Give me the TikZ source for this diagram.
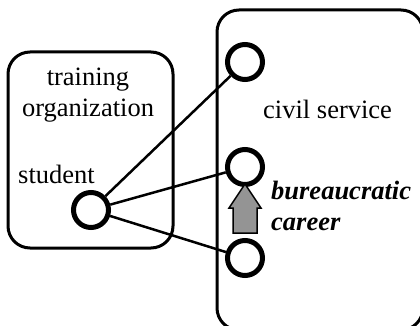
\documentclass[tikz,border=0pt]{standalone}
\usepackage{fontspec}
\setmainfont{Liberation Serif}
\begin{document}
\begin{tikzpicture}[x=1pt,y=-1pt,
  lbl/.style={font=\fontsize{26.5}{30}\selectfont, inner sep=0pt},
  blbl/.style={font=\fontsize{26.5}{30}\selectfont\bfseries\itshape, inner sep=0pt},
  orgbox/.style={draw, line width=3pt, rounded corners=22pt},
  posnode/.style={circle, draw, line width=5pt, minimum size=35pt, inner sep=0pt},
  linkline/.style={line width=2.5pt},
  uparrow/.style={draw, line width=1.5pt, fill=black!42, line join=miter}]
\useasboundingbox (0,0) rectangle (420,326);
\clip (0,0) rectangle (420,326);
% boxes
\draw[orgbox] (8,52) rectangle (173,248);
\draw[orgbox] (217,10) rectangle (423,330);
% texts
\node[lbl, anchor=base] (t1) at (88,86) {training};
\node[lbl, anchor=base] (t2) at (88,117) {organization};
\node[lbl, anchor=base west] (st) at (18,183) {student};
\node[lbl, anchor=base west] (cs) at (263,118) {civil service};
\node[blbl, anchor=base west] (bc) at (271,199) {bureaucratic};
\node[blbl, anchor=base west] (ca) at (271,230) {career};
% positions
\node[posnode] (s) at (91,210) {};
\node[posnode] (p1) at (245,62) {};
\node[posnode] (p2) at (245,167) {};
\node[posnode] (p3) at (245,258) {};
\draw[linkline] (s) -- (p1);
\draw[linkline] (s) -- (p2);
\draw[linkline] (s) -- (p3);
% career arrow
\draw[uparrow] (233,233) -- (233,208) -- (229,208) -- (245,184) -- (261,208) -- (257,208) -- (257,233) -- cycle;
\end{tikzpicture}
\end{document}
